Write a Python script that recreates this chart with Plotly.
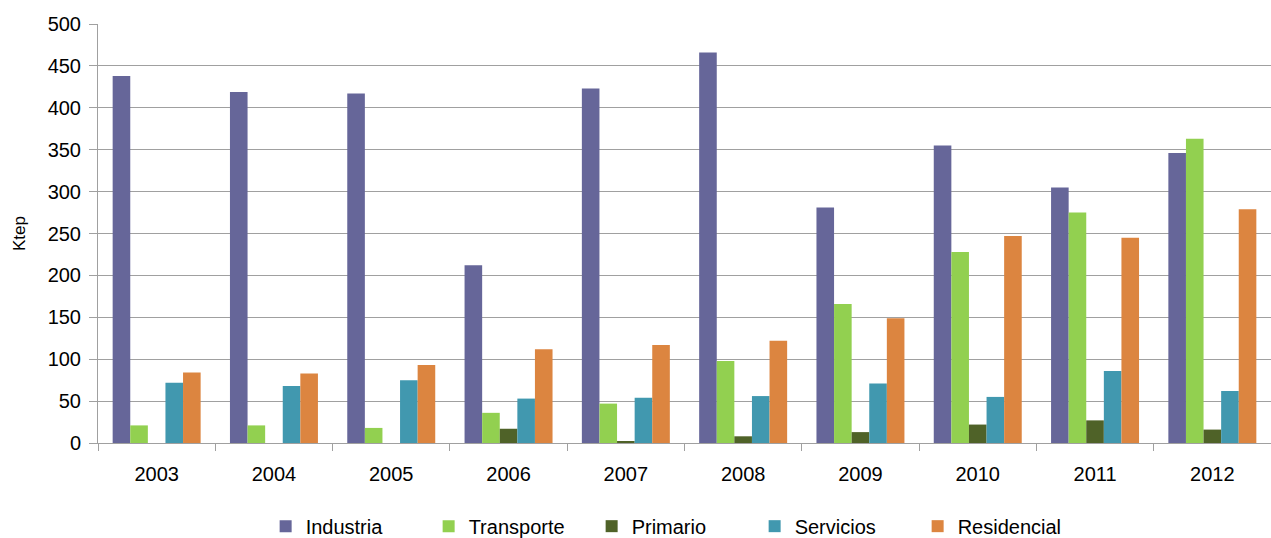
import plotly.graph_objects as go

years = ["2003", "2004", "2005", "2006", "2007", "2008", "2009", "2010", "2011", "2012"]
industria = [438, 419, 417, 212, 423, 466, 281, 355, 305, 346]
transporte = [21, 21, 18, 36, 47, 98, 166, 228, 275, 363]
primario = [0, 0, 0, 17, 1.5, 8, 13, 22, 27, 16]
servicios = [72, 68, 75, 53, 54, 56, 71, 55, 86, 62]
residencial = [84, 83, 93, 112, 117, 122, 149, 247, 245, 279]

series = [
    ("Industria", industria, "#666699"),
    ("Transporte", transporte, "#92d050"),
    ("Primario", primario, "#4f6228"),
    ("Servicios", servicios, "#4198af"),
    ("Residencial", residencial, "#dc8540"),
]

fig = go.Figure()
for name, vals, color in series:
    fig.add_trace(go.Bar(x=years, y=vals, name=name, marker=dict(color=color, line=dict(width=0))))

font = "Liberation Sans, Arial, sans-serif"
fig.update_layout(
    width=1271, height=538,
    margin=dict(l=98, r=0, t=24, b=95, autoexpand=False),
    paper_bgcolor="white", plot_bgcolor="white",
    barmode="group", bargap=0.25, bargroupgap=0,
    font=dict(family=font, size=20, color="#000000"),
    legend=dict(orientation="h", xref="container", x=0.209, xanchor="left",
                yref="container", y=0.022, yanchor="middle",
                font=dict(size=20), itemwidth=30, traceorder="normal",
                entrywidth=118, entrywidthmode="pixels"),
    xaxis=dict(type="category", tickson="boundaries", ticks="outside", ticklen=7,
               tickcolor="#a0a0a0", showline=True, linecolor="#a0a0a0", linewidth=1,
               showgrid=False, tickfont=dict(size=20), ticklabelstandoff=13),
    yaxis=dict(range=[0, 500], dtick=50, showgrid=True, gridcolor="#a0a0a0", gridwidth=1,
               showline=True, linecolor="#a0a0a0", ticks="outside", ticklen=8,
               tickcolor="#a0a0a0", zeroline=False, tickfont=dict(size=20),
               ticklabelstandoff=4,
               title=dict(text="Ktep", font=dict(size=17), standoff=17)),
)
fig.write_html("out.html")
